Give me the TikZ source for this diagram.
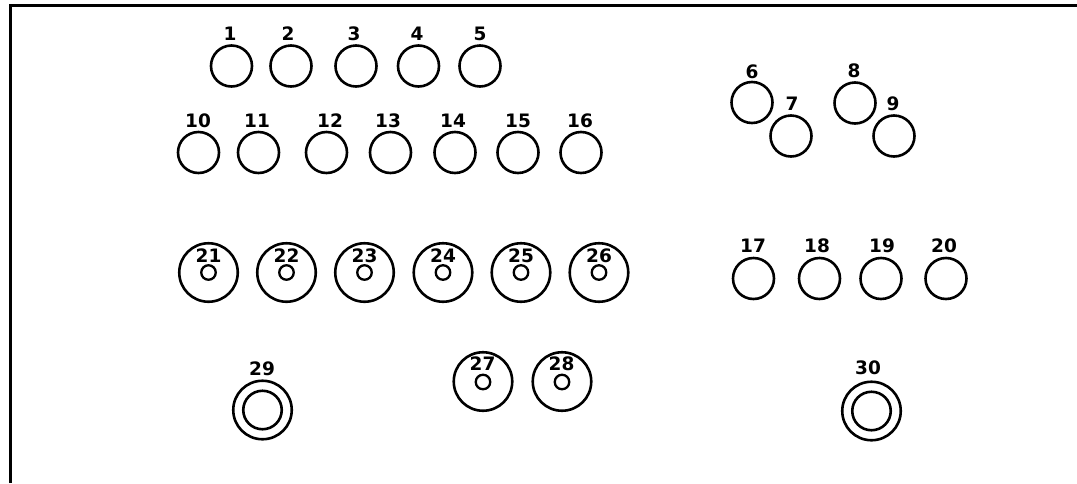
\documentclass[tikz,border=0pt]{standalone}
\usepackage{fontspec}
\setmainfont{DejaVu Sans}
\begin{document}
\begin{tikzpicture}[x=1pt,y=-1pt,
  hole/.style={circle,draw,line width=2.6pt,minimum size=41pt,inner sep=0pt},
  bighole/.style={circle,draw,line width=2.6pt,minimum size=58.5pt,inner sep=0pt},
  pin/.style={circle,draw,line width=2.3pt,minimum size=14.5pt,inner sep=0pt},
  ringin/.style={circle,draw,line width=2.6pt,minimum size=38.5pt,inner sep=0pt},
  lab/.style={inner sep=0pt,font=\fontsize{18.5}{18.5}\selectfont\bfseries}]
\useasboundingbox (0,0) rectangle (1077,483);
\draw[line width=3pt] (10,483) -- (10,5.5) -- (1077,5.5);
% row 1
\foreach \n/\x/\lx in {1/231.5/230,2/291/288,3/356/354,4/418.5/417,5/480/480}{
  \node[hole] (c\n) at (\x,66) {};
  \node[lab] (l\n) at (\lx,33.5) {\n};
}
% row 2
\foreach \n/\x/\lx in {10/198.5/198,11/258.5/257,12/326.5/330,13/390.5/388,14/455/453,15/518/518,16/581/580}{
  \node[hole] (c\n) at (\x,152.5) {};
  \node[lab] (l\n) at (\lx,120.5) {\n};
}
% 6-9
\node[hole] (c6) at (752,102.5) {};
\node[lab] (l6) at (752,71.5) {6};
\node[hole] (c7) at (791,136) {};
\node[lab] (l7) at (792,103.5) {7};
\node[hole] (c8) at (855,103) {};
\node[lab] (l8) at (854,71) {8};
\node[hole] (c9) at (894,136) {};
\node[lab] (l9) at (893,103.5) {9};
% 17-20
\foreach \n/\x/\lx in {17/753.5/753,18/819.5/817,19/881/882,20/946/944}{
  \node[hole] (c\n) at (\x,278.5) {};
  \node[lab] (l\n) at (\lx,246) {\n};
}
% 21-26
\foreach \n/\x in {21/208.5,22/286.5,23/364.5,24/443,25/521,26/599}{
  \node[bighole] (c\n) at (\x,272.5) {};
  \node[pin] (p\n) at (\x,272.5) {};
  \node[lab] (l\n) at (\x,255.5) {\n};
}
% 27-28
\foreach \n/\x in {27/483,28/562}{
  \node[bighole] (c\n) at (\x,381.5) {};
  \node[pin] (p\n) at (\x,382) {};
  \node[lab] (l\n) at (\x-0.5,364) {\n};
}
% 29-30
\node[bighole] (c29) at (262.5,410) {};
\node[ringin] (r29) at (262.5,410) {};
\node[lab] (l29) at (262,368.5) {29};
\node[bighole] (c30) at (871.5,411) {};
\node[ringin] (r30) at (871.5,411) {};
\node[lab] (l30) at (868,368) {30};
\end{tikzpicture}
\end{document}
